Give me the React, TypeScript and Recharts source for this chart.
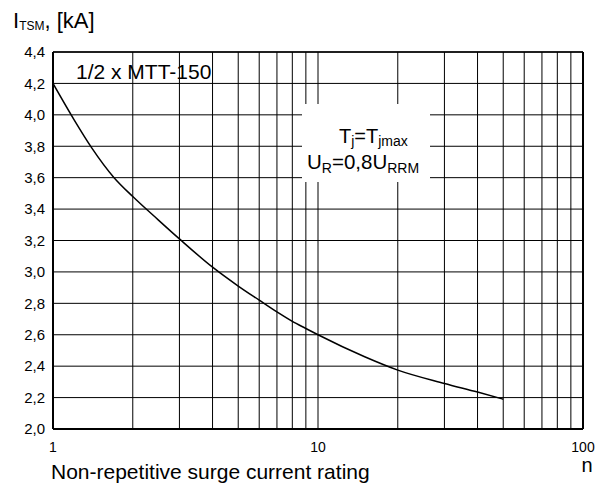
import React from 'react';
import { LineChart, Line, XAxis, YAxis, ReferenceLine } from 'recharts';

// number of surges n vs. peak surge current (kA)
const cycles = [1, 1.2, 1.4, 1.7, 2, 2.5, 3, 4, 5, 6, 7, 8, 9, 10, 15, 20, 30, 40, 50];
const surgeKA = [4.2, 3.97, 3.79, 3.6, 3.48, 3.33, 3.21, 3.03, 2.91, 2.82, 2.745, 2.685, 2.64, 2.6, 2.46, 2.375, 2.29, 2.235, 2.19];

const xTicks = [1, 10, 100];
const xGrid = [2, 3, 4, 5, 6, 7, 8, 9, 10, 20, 30, 40, 50, 60, 70, 80, 90];
const yTicks = [2.0, 2.2, 2.4, 2.6, 2.8, 3.0, 3.2, 3.4, 3.6, 3.8, 4.0, 4.2, 4.4];

const data = cycles.map((n, i) => ({ n, i: surgeKA[i] }));

const font = 'Arial, "Liberation Sans", sans-serif';
const W = 608;
const H = 489;

export default function App() {
  return (
    <div style={{ position: 'absolute', left: 0, top: 0, width: W, height: H, background: '#fff', fontFamily: font }}>
      <LineChart width={W} height={H} data={data} margin={{ top: 52, right: 25, bottom: 30, left: 8 }}>
        {xGrid.map((v) => (
          <ReferenceLine key={'x' + v} x={v} stroke="#000" strokeWidth={1} />
        ))}
        {yTicks.map((v) => (
          <ReferenceLine key={'y' + v} y={v} stroke="#000" strokeWidth={1} />
        ))}
        <ReferenceLine x={100} stroke="#000" strokeWidth={2} />
        <ReferenceLine y={4.4} stroke="#000" strokeWidth={1.5} />
        <XAxis
          dataKey="n"
          type="number"
          scale="log"
          domain={[1, 100]}
          ticks={xTicks}
          allowDataOverflow
          height={30}
          tickSize={0}
          tickMargin={13}
          axisLine={{ stroke: '#000', strokeWidth: 2 }}
          tick={{ fill: '#000', fontSize: 14, fontFamily: font }}
        />
        <YAxis
          type="number"
          domain={[2, 4.4]}
          ticks={yTicks}
          width={45}
          tickSize={0}
          tickMargin={8}
          interval={0}
          axisLine={{ stroke: '#000', strokeWidth: 2 }}
          tick={{ fill: '#000', fontSize: 15, fontFamily: font }}
          tickFormatter={(v: number) => v.toFixed(1).replace('.', ',')}
        />
        <Line
          dataKey="i"
          type="monotone"
          stroke="#000"
          strokeWidth={1.5}
          dot={false}
          isAnimationActive={false}
        />
      </LineChart>
      <svg width={W} height={H} style={{ position: 'absolute', left: 0, top: 0, pointerEvents: 'none' }}>
        <text x={13} y={28} fontSize={22} fontFamily={font} fill="#000">
          I<tspan fontSize={12} dy={2}>TSM</tspan>
          <tspan dy={-2}>, [kA]</tspan>
        </text>
        <text x={76} y={79} fontSize={21} fontFamily={font} fill="#000">1/2 x MTT-150</text>
        <rect x={302} y={104} width={128} height={78} fill="#fff" />
        <text x={339} y={143} fontSize={20} fontFamily={font} fill="#000">
          T<tspan fontSize={14} dy={3}>j</tspan>
          <tspan dy={-3}>=T</tspan>
          <tspan fontSize={14} dy={3}>jmax</tspan>
        </text>
        <text x={307} y={169} fontSize={20.5} fontFamily={font} fill="#000">
          U<tspan fontSize={14} dy={4}>R</tspan>
          <tspan dy={-4}>=0,8U</tspan>
          <tspan fontSize={14} dy={4}>RRM</tspan>
        </text>
        <text x={51} y={479} fontSize={21} fontFamily={font} fill="#000">Non-repetitive surge current rating</text>
        <text x={587} y={472} fontSize={20} fontFamily={font} fill="#000" textAnchor="middle">n</text>
      </svg>
    </div>
  );
}
